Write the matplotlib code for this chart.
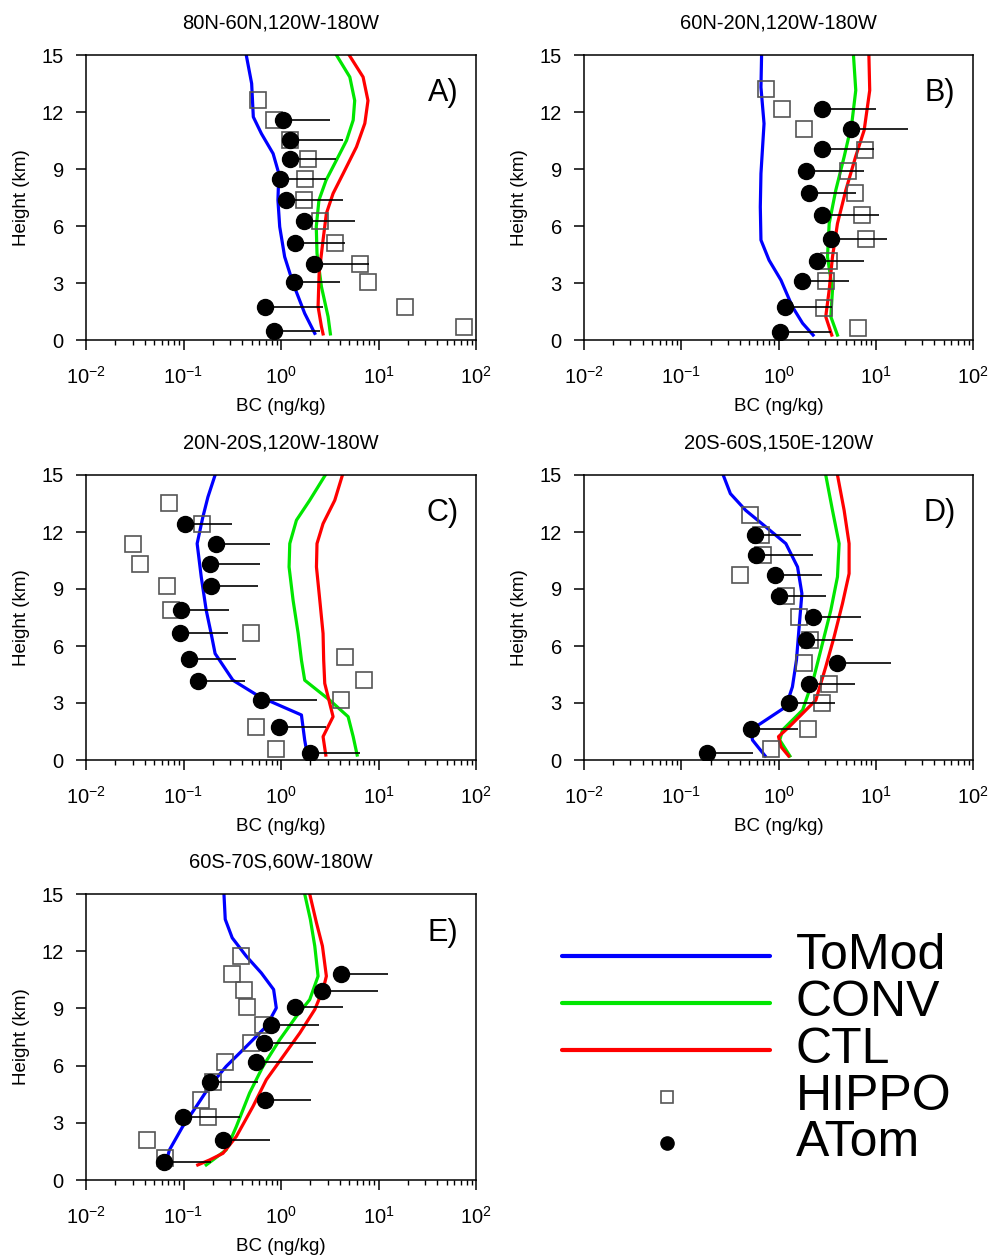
import matplotlib
matplotlib.use("Agg")
import matplotlib.pyplot as plt
import numpy as np

plt.rcParams['font.family'] = ['Liberation Sans', 'DejaVu Sans']
plt.rcParams['mathtext.fontset'] = 'custom'
plt.rcParams['mathtext.rm'] = 'Liberation Sans'

TITLES = ["80N-60N,120W-180W", "60N-20N,120W-180W", "20N-20S,120W-180W",
          "20S-60S,150E-120W", "60S-70S,60W-180W"]
LETTERS = ["A)", "B)", "C)", "D)", "E)"]
Y_TICKS = [0, 3, 6, 9, 12, 15]

# ---------------- Panel A ----------------
ATOM_A_H = [11.6, 10.55, 9.53, 8.45, 7.39, 6.26, 5.12, 4.0, 3.03, 1.72, 0.47]
ATOM_A_X = [1.05, 1.23, 1.23, 0.97, 1.12, 1.72, 1.38, 2.17, 1.35, 0.69, 0.84]
ATOM_A_HI = [3.16, 4.3, 3.7, 2.9, 4.3, 5.7, 4.5, 8.0, 4.07, 2.7, 2.54]
HIPPO_A_H = [12.65, 11.6, 10.55, 9.51, 8.46, 7.39, 6.26, 5.12, 4.0, 3.03, 1.72, 0.67]
HIPPO_A_X = [0.58, 0.84, 1.23, 1.89, 1.75, 1.72, 2.5, 3.59, 6.4, 7.8, 18.8, 75]
TOMOD_A_H = [15, 13.5, 11.74, 10.86, 9.81, 8.76, 7.36, 5.96, 4.38, 2.98, 1.4, 0.35]
TOMOD_A_X = [0.44, 0.50, 0.52, 0.63, 0.83, 0.95, 0.93, 0.97, 1.09, 1.33, 1.75, 2.22]
CONV_A_H = [15, 13.84, 12.6, 11.57, 10.5, 9.46, 8.41, 7.36, 5.96, 4.56, 2.8, 1.23, 0.32]
CONV_A_X = [3.7, 5.08, 5.7, 5.5, 4.7, 3.7, 2.9, 2.45, 2.3, 2.34, 2.6, 3.04, 3.21]
CTL_A_H = [15, 13.84, 12.6, 11.4, 10.16, 8.76, 7.71, 6.66, 5.26, 3.5, 1.75, 0.7, 0.32]
CTL_A_X = [5.0, 6.95, 7.8, 7.24, 5.94, 4.34, 3.42, 2.92, 2.7, 2.46, 2.4, 2.6, 2.7]

# ---------------- Panel B ----------------
ATOM_B_H = [12.14, 11.09, 10.04, 8.88, 7.76, 6.57, 5.31, 4.15, 3.12, 1.72, 0.4]
ATOM_B_X = [2.79, 5.58, 2.83, 1.94, 2.07, 2.83, 3.45, 2.48, 1.74, 1.16, 1.03]
ATOM_B_HI = [10, 21.5, 9.6, 7.5, 6.2, 10.8, 12.9, 7.5, 5.3, 3.53, 3.45]
HIPPO_B_H = [13.19, 12.18, 11.13, 10.02, 8.9, 7.74, 6.57, 5.31, 4.15, 3.12, 1.7, 0.61]
HIPPO_B_X = [0.74, 1.08, 1.81, 7.77, 5.15, 6.13, 7.18, 8.0, 3.31, 3.06, 2.94, 6.64]
TOMOD_B_H = [15, 13.3, 11.39, 8.76, 7.0, 5.26, 4.2, 3.15, 1.75, 0.88, 0.26]
TOMOD_B_X = [0.67, 0.66, 0.71, 0.66, 0.65, 0.66, 0.80, 1.06, 1.39, 1.77, 2.27]
CONV_B_H = [15, 13.14, 11.39, 9.64, 7.88, 6.13, 4.38, 2.63, 1.23, 0.26]
CONV_B_X = [5.9, 6.23, 5.67, 4.73, 3.88, 3.32, 3.19, 3.59, 3.45, 4.04]
CTL_B_H = [15, 13.14, 11.04, 9.64, 7.88, 6.13, 4.38, 2.63, 1.23, 0.26]
CTL_B_X = [8.5, 8.67, 7.6, 6.2, 4.92, 4.04, 3.59, 3.32, 3.06, 3.53]

# ---------------- Panel C ----------------
ATOM_C_H = [12.44, 11.39, 10.29, 9.15, 7.88, 6.69, 5.34, 4.17, 3.15, 1.72, 0.35]
ATOM_C_X = [0.104, 0.217, 0.185, 0.192, 0.0946, 0.093, 0.115, 0.14, 0.618, 0.946, 1.97]
ATOM_C_HI = [0.316, 0.765, 0.613, 0.585, 0.292, 0.283, 0.348, 0.43, 2.34, 2.88, 6.53]
HIPPO_C_H = [13.53, 12.44, 11.39, 10.29, 9.15, 7.92, 6.69, 5.4, 4.2, 3.15, 1.72, 0.56]
HIPPO_C_X = [0.0707, 0.154, 0.0306, 0.0361, 0.068, 0.0747, 0.488, 4.55, 7.07, 4.17, 0.558, 0.88]
TOMOD_C_H = [15, 13.84, 12.79, 11.39, 9.64, 7.88, 6.66, 5.6, 4.2, 3.33, 2.37, 1.05, 0.35]
TOMOD_C_X = [0.211, 0.178, 0.158, 0.138, 0.152, 0.171, 0.192, 0.211, 0.321, 0.604, 1.62, 1.75, 1.85]
CONV_C_H = [15, 13.67, 12.62, 11.39, 10.16, 8.41, 6.66, 5.26, 4.2, 3.15, 2.28, 1.23, 0.26]
CONV_C_X = [2.85, 1.97, 1.44, 1.23, 1.21, 1.33, 1.5, 1.62, 1.75, 3.16, 4.88, 5.5, 6.04]
CTL_C_H = [15, 13.67, 12.44, 11.39, 10.16, 8.41, 6.66, 5.26, 4.03, 2.28, 1.23, 0.26]
CTL_C_X = [4.27, 3.56, 2.7, 2.34, 2.31, 2.5, 2.7, 2.74, 2.81, 3.42, 2.7, 2.88]

# ---------------- Panel D ----------------
ATOM_D_H = [11.83, 10.78, 9.73, 8.64, 7.53, 6.31, 5.13, 3.98, 2.98, 1.63, 0.35]
ATOM_D_X = [0.571, 0.585, 0.917, 1.02, 2.29, 1.91, 4.04, 2.07, 1.27, 0.52, 0.184]
ATOM_D_HI = [1.7, 2.27, 2.79, 3.06, 7.0, 5.85, 14.3, 6.13, 3.79, 1.6, 0.55]
HIPPO_D_H = [12.91, 11.83, 10.78, 9.73, 8.64, 7.53, 6.31, 5.13, 3.98, 2.98, 1.63, 0.56]
HIPPO_D_X = [0.51, 0.658, 0.695, 0.404, 1.19, 1.63, 2.1, 1.81, 3.32, 2.83, 2.03, 0.834]
TOMOD_D_H = [15, 14.02, 13.14, 12.27, 11.39, 10.16, 8.76, 7.0, 5.26, 3.85, 2.8, 2.1, 1.58, 1.05, 0.21]
TOMOD_D_X = [0.27, 0.32, 0.46, 0.74, 1.19, 1.57, 1.74, 1.63, 1.53, 1.39, 1.19, 0.74, 0.52, 0.54, 0.73]
CONV_D_H = [15, 13.14, 11.39, 9.64, 7.88, 6.13, 4.38, 2.63, 1.58, 1.05, 0.21]
CONV_D_X = [3.06, 3.59, 4.2, 4.04, 3.45, 2.83, 2.32, 1.77, 1.1, 1.03, 1.31]
CTL_D_H = [15, 13.14, 11.39, 9.81, 8.24, 6.48, 4.9, 3.15, 1.75, 1.23, 0.7, 0.21]
CTL_D_X = [4.04, 4.73, 5.32, 5.32, 4.55, 3.73, 3.06, 2.42, 1.29, 1.0, 1.06, 1.27]

# ---------------- Panel E ----------------
ATOM_E_H = [10.79, 9.9, 9.06, 8.11, 7.18, 6.17, 5.13, 4.17, 3.29, 2.1, 0.96]
ATOM_E_X = [4.1, 2.64, 1.4, 0.783, 0.668, 0.549, 0.188, 0.68, 0.0985, 0.254, 0.0628]
ATOM_E_HI = [12.6, 9.9, 4.34, 2.46, 2.27, 2.13, 0.58, 2.05, 0.376, 0.777, 0.192]
HIPPO_E_H = [11.74, 10.83, 9.94, 9.06, 8.11, 7.18, 6.17, 5.12, 4.17, 3.29, 2.1, 1.17]
HIPPO_E_X = [0.391, 0.314, 0.417, 0.451, 0.653, 0.496, 0.268, 0.203, 0.152, 0.178, 0.0424, 0.0653]
TOMOD_E_H = [15, 13.67, 12.7, 11.74, 10.86, 9.99, 9.02, 8.06, 7.0, 5.96, 4.91, 3.85, 2.8, 1.58, 1.14]
TOMOD_E_X = [0.26, 0.268, 0.316, 0.44, 0.628, 0.84, 0.895, 0.707, 0.44, 0.274, 0.185, 0.135, 0.098, 0.0718, 0.068]
CONV_E_H = [15, 13.67, 12.27, 10.69, 9.46, 8.59, 7.36, 5.96, 4.56, 2.8, 1.58, 1.05, 0.79]
CONV_E_X = [1.75, 2.0, 2.22, 2.4, 1.97, 1.44, 0.97, 0.653, 0.476, 0.348, 0.274, 0.2, 0.171]
CTL_E_H = [15, 13.49, 12.27, 10.69, 9.99, 8.94, 7.71, 6.48, 5.26, 3.85, 2.28, 1.4, 1.05, 0.79]
CTL_E_X = [1.97, 2.31, 2.66, 2.92, 2.7, 2.22, 1.56, 1.05, 0.707, 0.515, 0.348, 0.254, 0.185, 0.14]

LEGEND_LABELS = ["ToMod", "CONV", "CTL", "HIPPO", "ATom"]

PANELS = [
    (ATOM_A_H, ATOM_A_X, ATOM_A_HI, HIPPO_A_H, HIPPO_A_X, TOMOD_A_H, TOMOD_A_X, CONV_A_H, CONV_A_X, CTL_A_H, CTL_A_X),
    (ATOM_B_H, ATOM_B_X, ATOM_B_HI, HIPPO_B_H, HIPPO_B_X, TOMOD_B_H, TOMOD_B_X, CONV_B_H, CONV_B_X, CTL_B_H, CTL_B_X),
    (ATOM_C_H, ATOM_C_X, ATOM_C_HI, HIPPO_C_H, HIPPO_C_X, TOMOD_C_H, TOMOD_C_X, CONV_C_H, CONV_C_X, CTL_C_H, CTL_C_X),
    (ATOM_D_H, ATOM_D_X, ATOM_D_HI, HIPPO_D_H, HIPPO_D_X, TOMOD_D_H, TOMOD_D_X, CONV_D_H, CONV_D_X, CTL_D_H, CTL_D_X),
    (ATOM_E_H, ATOM_E_X, ATOM_E_HI, HIPPO_E_H, HIPPO_E_X, TOMOD_E_H, TOMOD_E_X, CONV_E_H, CONV_E_X, CTL_E_H, CTL_E_X),
]

W, H = 992, 1257
fig = plt.figure(figsize=(W / 100, H / 100), dpi=100)

# pixel boxes: left, top, right, bottom
BOXES = [(86, 55, 476, 340), (584, 55, 973, 340),
         (86, 475, 476, 760), (584, 475, 973, 760),
         (86, 894, 476, 1180)]

BLUE, GREEN, RED = "#0000ff", "#00e600", "#ff0000"

for i, (box, data) in enumerate(zip(BOXES, PANELS)):
    l, t, r, b = box
    ax = fig.add_axes([l / W, 1 - b / H, (r - l) / W, (b - t) / H])
    (ah, ax_, ahi, hh, hx, th, tx, ch, cx, rh, rx) = data
    ax.plot(tx, th, color=BLUE, lw=2.3, zorder=2)
    ax.plot(cx, ch, color=GREEN, lw=2.3, zorder=2)
    ax.plot(rx, rh, color=RED, lw=2.3, zorder=2)
    ax.plot(hx, hh, ls='none', marker='s', ms=11, mfc='none', mec='#555555',
            mew=1.2, zorder=3)
    ax_arr = np.array(ax_)
    err = np.vstack([np.zeros_like(ax_arr), np.array(ahi) - ax_arr])
    ax.errorbar(ax_, ah, xerr=err, fmt='o', ms=11.5, color='black',
                ecolor='black', elinewidth=1.2, capsize=0, zorder=4)
    ax.set_xscale('log')
    ax.set_xlim(1e-2, 1e2)
    ax.set_ylim(0, 15)
    ax.set_yticks(Y_TICKS)
    ax.tick_params(axis='both', which='major', direction='out', length=7,
                   width=1.1, labelsize=14.5, pad=9)
    ax.tick_params(axis='x', which='major', pad=12)
    ax.tick_params(axis='x', which='minor', direction='out', length=3.5, width=1.0)
    for sp in ax.spines.values():
        sp.set_linewidth(1.1)
    ax.set_title(TITLES[i], fontsize=14.5, pad=19)
    ax.set_xlabel("BC (ng/kg)", fontsize=13.5, labelpad=7)
    ax.set_ylabel("Height (km)", fontsize=13.5, labelpad=8)
    ax.text(0.955, 0.865, LETTERS[i], transform=ax.transAxes, ha='right',
            va='center', fontsize=22)

# legend panel
lax = fig.add_axes([540 / W, 1 - 1180 / H, 450 / W, 260 / H])
lax.set_xlim(540, 990)
lax.set_ylim(1180, 920)
lax.axis('off')
ys = [955.7, 1002.7, 1050, 1096.7, 1143.3]
for y, c in zip(ys[:3], [BLUE, GREEN, RED]):
    lax.plot([562, 770], [y, y], color=c, lw=3, solid_capstyle='round')
lax.plot([666.7], [ys[3]], ls='none', marker='s', ms=9, mfc='none', mec='#555555', mew=1.2)
lax.plot([666.7], [ys[4]], ls='none', marker='o', ms=9.5, color='black')
for y, lab in zip(ys, LEGEND_LABELS):
    lax.text(796, y, lab, ha='left', va='center', fontsize=36)

fig.savefig("out.png", dpi=100)
